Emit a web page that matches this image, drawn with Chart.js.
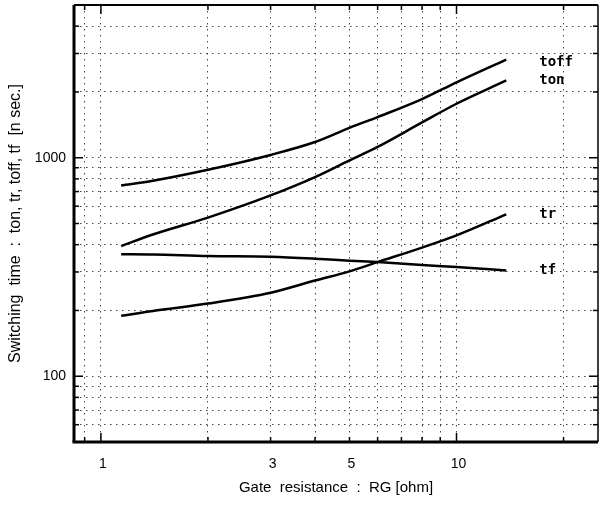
<!DOCTYPE html>
<html>
<head>
<meta charset="utf-8">
<script src="https://cdn.jsdelivr.net/npm/chart.js@4"></script>
<style>
  html, body { margin: 0; padding: 0; background: #fff; }
  #wrap { width: 599px; height: 505px; }
</style>
</head>
<body>
<div id="wrap"><canvas id="myChart"></canvas></div>
<script>
  // gate resistance [ohm]
  const rg = [1.14, 1.4, 2, 3, 4, 5, 6, 8, 10, 13.8];
  // switching times [n sec.]
  const toff = [747, 785, 881, 1030, 1180, 1370, 1535, 1855, 2215, 2815];
  const ton = [394, 445, 532, 672, 815, 972, 1120, 1450, 1766, 2257];
  const tr = [189, 199, 215, 241, 274, 302, 333, 388, 441, 551];
  const tf = [362, 361, 355, 352, 345, 338, 333, 323, 316, 305];
  const seriesNames = ["toff", "ton", "tr", "tf"];

  const xGrid = [0.9, 1, 2, 3, 4, 5, 6, 7, 8, 9, 10, 20];
  const xLabels = [1, 3, 5, 10];
  const yGrid = [60, 70, 80, 90, 100, 200, 300, 400, 500, 600, 700, 800, 900, 1000, 2000, 3000, 4000];
  const yLabels = [100, 1000];

  const pts = (ys) => ys.map((v, i) => ({ x: rg[i], y: v }));

  const sans = "'Liberation Sans', Arial, sans-serif";
  const tickFont = { family: sans, size: 14 };

  // frame, inward ticks and curve names
  const decorations = {
    id: "decorations",
    afterDraw(chart) {
      const { ctx, chartArea: a, scales: { x, y } } = chart;
      ctx.save();
      ctx.strokeStyle = "#000";
      ctx.lineWidth = 1.5;
      const seg = (x1, y1, x2, y2) => {
        ctx.beginPath();
        ctx.moveTo(x1, y1);
        ctx.lineTo(x2, y2);
        ctx.stroke();
      };
      xGrid.forEach((v) => {
        const p = x.getPixelForValue(v);
        const len = v === 1 || v === 10 ? 9 : 5;
        seg(p, a.bottom, p, a.bottom - len);
        seg(p, a.top, p, a.top + len);
      });
      yGrid.forEach((v) => {
        const p = y.getPixelForValue(v);
        const len = v === 100 || v === 1000 ? 9 : 5;
        seg(a.left, p, a.left + len, p);
        seg(a.right, p, a.right - len, p);
      });
      // frame
      ctx.lineWidth = 3;
      seg(a.left, a.top, a.left, a.bottom);
      seg(a.left - 1.5, a.bottom, a.right, a.bottom);
      ctx.lineWidth = 2;
      seg(a.left, a.top, a.right, a.top);
      ctx.lineWidth = 1.5;
      seg(a.right, a.top, a.right, a.bottom);

      // curve names next to the line ends
      ctx.fillStyle = "#000";
      ctx.font = "bold 14px 'DejaVu Sans Mono', monospace";
      ctx.textBaseline = "middle";
      chart.data.datasets.forEach((ds, i) => {
        const last = ds.data[ds.data.length - 1];
        const px = x.getPixelForValue(last.x) + 33;
        const py = y.getPixelForValue(last.y) + (i === 0 ? 3 : 0);
        ctx.fillText(seriesNames[i], px, py);
      });
      ctx.restore();
    },
  };

  const lineStyle = {
    borderColor: "#000",
    borderWidth: 2.5,
    pointRadius: 0,
    fill: false,
    cubicInterpolationMode: "monotone",
  };

  new Chart(document.getElementById("myChart"), {
    type: "line",
    plugins: [decorations],
    data: {
      datasets: [
        { label: "toff", data: pts(toff), ...lineStyle },
        { label: "ton", data: pts(ton), ...lineStyle },
        { label: "tr", data: pts(tr), ...lineStyle },
        { label: "tf", data: pts(tf), ...lineStyle },
      ],
    },
    options: {
      responsive: true,
      maintainAspectRatio: false,
      animation: false,
      layout: { padding: { top: 5, right: 1, left: 0, bottom: 0 } },
      plugins: {
        legend: { display: false },
        tooltip: { enabled: false },
      },
      scales: {
        x: {
          type: "logarithmic",
          min: 0.84,
          max: 25,
          afterBuildTicks: (s) => { s.ticks = xGrid.map((v) => ({ value: v })); },
          afterFit: (s) => { s.height = 63; s.paddingLeft = 0; s.paddingRight = 0; },
          ticks: {
            autoSkip: false,
            maxRotation: 0,
            padding: 14,
            labelOffset: 2,
            color: "#000",
            font: tickFont,
            callback: (v) => (xLabels.includes(v) ? String(v) : ""),
          },
          grid: { color: "#444", lineWidth: 1, drawTicks: false },
          border: { display: false, dash: [1.5, 4.5] },
          title: {
            display: true,
            text: "Gate  resistance  :  RG [ohm]",
            color: "#000",
            font: { family: sans, size: 15 },
            padding: { top: 2, bottom: 8 },
          },
        },
        y: {
          type: "logarithmic",
          min: 50,
          max: 5000,
          afterBuildTicks: (s) => { s.ticks = yGrid.map((v) => ({ value: v })); },
          afterFit: (s) => { s.width = 74; s.paddingTop = 0; s.paddingBottom = 0; },
          ticks: {
            autoSkip: false,
            padding: 8,
            color: "#000",
            font: tickFont,
            callback: (v) => (yLabels.includes(v) ? String(v) : ""),
          },
          grid: { color: "#444", lineWidth: 1, drawTicks: false },
          border: { display: false, dash: [1.5, 4.5] },
          title: {
            display: true,
            text: "Switching  time  :  ton, tr, toff, tf  [n sec.]",
            color: "#000",
            font: { family: sans, size: 16 },
            padding: { top: 6, bottom: 0 },
          },
        },
      },
    },
  });
</script>
</body>
</html>
